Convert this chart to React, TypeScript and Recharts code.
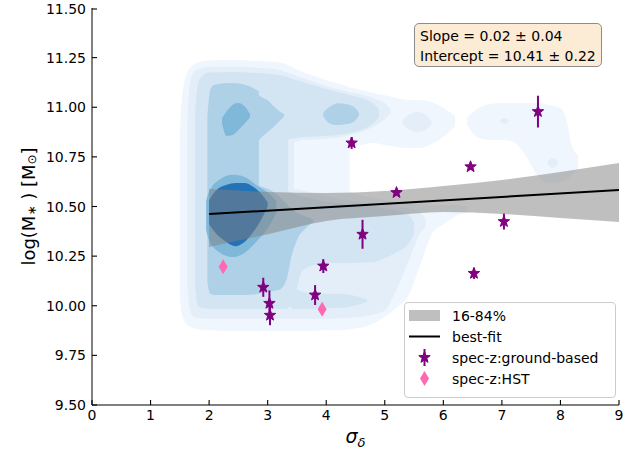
import { ComposedChart, Area, Line, Scatter, ErrorBar, XAxis, YAxis, Legend } from 'recharts'

type Island = [number, number, number][] // [x, low, high]

const xTicks = [0, 1, 2, 3, 4, 5, 6, 7, 8, 9]
const yTicks = [9.5, 9.75, 10, 10.25, 10.5, 10.75, 11, 11.25, 11.5]

// spec-z ground-based sample
const gbX = [2.925, 3.03, 3.04, 3.81, 3.95, 4.434, 4.62, 5.2, 6.465, 6.523, 7.035, 7.616]
const gbY = [10.093, 10.012, 9.952, 10.054, 10.2, 10.82, 10.36, 10.57, 10.7, 10.163, 10.424, 10.978]
const gbErr = [0.048, 0.065, 0.05, 0.05, 0.035, 0.03, 0.073, 0.015, 0.015, 0.028, 0.04, 0.08]

// spec-z HST sample
const hstX = [2.24, 3.93]
const hstY = [10.197, 9.982]

// 16-84% band of the fit
const bandX = [2, 3, 4, 5, 6, 7, 8, 9]
const bandLow = [10.296, 10.36, 10.427, 10.452, 10.472, 10.462, 10.442, 10.422]
const bandHigh = [10.588, 10.573, 10.568, 10.578, 10.603, 10.633, 10.674, 10.719]

// best fit
const fitX = [2, 9]
const fitY = [10.462, 10.583]

// KDE contour levels, lightest first
const levelColors = ['#f0f6fd', '#e3eef9', '#d3e4f3', '#afd1e7', '#80b8da', '#2473b6']

const level1: Island[] = [
  [[1.5, 10.05, 10.85], [1.52, 9.98, 10.99], [1.56, 9.935, 11.1], [1.62, 9.905, 11.17], [1.7, 9.89, 11.205], [1.8, 9.882, 11.225], [2.0, 9.876, 11.236], [2.4, 9.873, 11.238], [2.8, 9.873, 11.233], [3.2, 9.873, 11.226], [3.6, 9.873, 11.178], [4.0, 9.876, 11.137], [4.4, 9.882, 11.1]],
  [[4.2, 10.775, 11.12], [4.4, 10.795, 11.1], [4.6, 10.81, 11.087], [4.8, 10.82, 11.072], [5.0, 10.81, 11.06], [5.2, 10.8, 11.047], [5.4, 10.795, 11.037], [5.6, 10.795, 11.037], [5.8, 10.815, 11.026], [6.0, 10.85, 10.996], [6.2, 10.906, 10.956]],
  [[4.2, 9.876, 10.6], [4.4, 9.882, 10.575], [4.6, 9.89, 10.558], [4.8, 9.91, 10.543], [5.0, 9.945, 10.533], [5.2, 9.99, 10.523], [5.4, 10.05, 10.518], [5.6, 10.2, 10.513], [5.8, 10.36, 10.508], [6.0, 10.41, 10.508], [6.2, 10.45, 10.508], [6.4, 10.47, 10.5]],
  [[6.4, 10.916, 10.946], [6.6, 10.845, 10.996], [6.8, 10.835, 11.016], [7.0, 10.835, 11.021], [7.2, 10.825, 11.021], [7.4, 10.759, 11.021], [7.6, 10.659, 11.021], [7.8, 10.618, 11.011], [8.0, 10.623, 10.996], [8.1, 10.633, 10.94], [8.2, 10.66, 10.8], [8.3, 10.69, 10.76]],
]

const level2: Island[] = [
  [[1.63, 10.1, 10.95], [1.67, 9.98, 11.12], [1.72, 9.95, 11.17], [1.8, 9.94, 11.19], [2.0, 9.935, 11.203], [2.4, 9.935, 11.205], [2.8, 9.935, 11.2], [3.2, 9.935, 11.188], [3.45, 9.935, 11.16]],
  [[3.3, 10.8, 11.178], [3.6, 10.835, 11.147], [4.0, 10.84, 11.107], [4.4, 10.86, 11.077], [4.8, 10.9, 11.047], [5.0, 10.94, 11.02], [5.1, 10.97, 10.99]],
  [[3.3, 9.935, 10.6], [3.6, 9.935, 10.58], [4.0, 9.935, 10.55], [4.4, 9.94, 10.53], [4.8, 9.955, 10.515], [5.0, 9.975, 10.51], [5.2, 10.08, 10.5], [5.4, 10.22, 10.49], [5.6, 10.36, 10.47], [5.7, 10.4, 10.44]],
  [[5.3, 10.92, 10.93], [5.4, 10.89, 10.96], [5.55, 10.875, 10.976], [5.7, 10.885, 10.96], [5.8, 10.915, 10.93]],
  [[6.97, 10.926, 10.936], [7.04, 10.916, 10.946], [7.11, 10.926, 10.936]],
  [[7.78, 10.714, 10.724], [7.87, 10.694, 10.744], [7.96, 10.714, 10.724]],
]

const level3: Island[] = [
  [[1.76, 10.1, 10.95], [1.8, 10.01, 11.1], [1.86, 9.99, 11.15], [2.0, 9.985, 11.175], [2.4, 9.985, 11.178], [2.8, 9.985, 11.173], [3.2, 9.985, 11.162], [3.35, 9.985, 11.15]],
  [[3.25, 10.83, 11.158], [3.6, 10.85, 11.127], [4.0, 10.855, 11.092], [4.4, 10.87, 11.062], [4.8, 10.92, 11.02], [4.9, 10.95, 10.99]],
  [[3.25, 9.985, 10.59], [3.4, 10.0, 10.57], [3.6, 10.18, 10.55], [3.8, 10.205, 10.535], [4.0, 10.215, 10.525], [4.4, 10.215, 10.51], [4.8, 10.22, 10.5], [5.0, 10.24, 10.49], [5.2, 10.27, 10.48], [5.4, 10.31, 10.46], [5.5, 10.36, 10.42]],
  [[3.4, 9.985, 10.1], [3.6, 9.985, 10.07], [3.8, 9.985, 10.06], [4.0, 9.99, 10.06], [4.2, 9.99, 10.06], [4.4, 9.995, 10.055], [4.6, 10.01, 10.04], [4.7, 10.02, 10.03]],
]

const level4: Island[] = [
  [[1.97, 10.12, 10.95], [2.02, 10.06, 11.09], [2.1, 10.054, 11.115], [2.4, 10.054, 11.122], [2.6, 10.054, 11.115], [2.85, 10.06, 11.08]],
  [[2.75, 10.8, 11.085], [2.9, 10.85, 11.05], [3.0, 10.875, 11.035], [3.1, 10.9, 11.006], [3.2, 10.93, 10.98], [3.28, 10.955, 10.965]],
  [[2.75, 10.06, 10.62], [2.9, 10.064, 10.6], [3.0, 10.07, 10.59], [3.2, 10.08, 10.55], [3.33, 10.14, 10.51], [3.4, 10.24, 10.49], [3.5, 10.33, 10.47], [3.65, 10.39, 10.45], [3.78, 10.425, 10.435]],
  [[3.95, 10.955, 10.975], [4.05, 10.92, 11.0], [4.2, 10.91, 11.02], [4.35, 10.915, 11.015], [4.5, 10.935, 10.995], [4.56, 10.96, 10.97]],
]

const level5: Island[] = [
  [[2.22, 10.92, 10.945], [2.3, 10.855, 10.98], [2.4, 10.86, 11.011], [2.5, 10.885, 11.021], [2.6, 10.915, 11.006], [2.7, 10.95, 10.965]],
  [[1.95, 10.38, 10.53], [2.0, 10.33, 10.575], [2.2, 10.265, 10.64], [2.4, 10.245, 10.66], [2.6, 10.265, 10.65], [2.8, 10.32, 10.61], [3.0, 10.39, 10.57], [3.15, 10.47, 10.525]],
]

const level6: Island[] = [
  [[2.0, 10.41, 10.53], [2.1, 10.37, 10.575], [2.3, 10.32, 10.61], [2.45, 10.3, 10.618], [2.6, 10.32, 10.618], [2.75, 10.37, 10.6], [2.9, 10.44, 10.56], [3.0, 10.5, 10.52]],
]

const levels = [level1, level2, level3, level4, level5, level6]

// one shared table keyed by x; each contour island gets its own ranged key
const contours: { key: string; color: string }[] = []
const rows = new Map<number, Record<string, any>>()
const rowAt = (x: number) => {
  if (!rows.has(x)) rows.set(x, { x })
  return rows.get(x)!
}
levels.forEach((islands, li) =>
  islands.forEach((pts, ii) => {
    const key = `c${li}_${ii}`
    contours.push({ key, color: levelColors[li] })
    pts.forEach(([x, lo, hi]) => {
      rowAt(x)[key] = [lo, hi]
    })
  })
)
bandX.forEach((x, i) => {
  rowAt(x).band = [bandLow[i], bandHigh[i]]
})
fitX.forEach((x, i) => {
  rowAt(x).fit = fitY[i]
})
const table = [...rows.values()].sort((a, b) => a.x - b.x)

const gbData = gbX.map((x, i) => ({ x, y: gbY[i], err: gbErr[i] }))
const hstData = hstX.map((x, i) => ({ x, y: hstY[i] }))

const FONT = 'DejaVu Sans'
const PURPLE = '#800080'
const PINK = '#ff69b4'
const TICK = 5

function StarMark({ cx, cy }: { cx: number; cy: number }) {
  const pts: string[] = []
  for (let i = 0; i < 10; i++) {
    const r = i % 2 === 0 ? 6 : 2.5
    const a = -Math.PI / 2 + (i * Math.PI) / 5
    pts.push(`${cx + r * Math.cos(a)},${cy + r * Math.sin(a)}`)
  }
  return <polygon points={pts.join(' ')} fill={PURPLE} stroke={PURPLE} strokeWidth={1} />
}

function DiamondMark({ cx, cy }: { cx: number; cy: number }) {
  return <polygon points={`${cx},${cy - 7.5} ${cx + 4.5},${cy} ${cx},${cy + 7.5} ${cx - 4.5},${cy}`} fill={PINK} />
}

// inward ticks (matplotlib style), drawn from the tick position the axis hands over
function BottomTick({ x, y, payload }: any) {
  return (
    <g>
      <line x1={x} x2={x} y1={y - 4} y2={y - 4 - TICK} stroke="#000" strokeWidth={1.1} />
      <text x={x} y={y} dy="0.75em" textAnchor="middle" fontSize={14} fontFamily={FONT} fill="#000">{payload.value}</text>
    </g>
  )
}
function LeftTick({ x, y, payload }: any) {
  return (
    <g>
      <line x1={x + 6} x2={x + 6 + TICK} y1={y} y2={y} stroke="#000" strokeWidth={1.1} />
      <text x={x} y={y} dy="0.36em" textAnchor="end" fontSize={14} fontFamily={FONT} fill="#000">{Number(payload.value).toFixed(2)}</text>
    </g>
  )
}
function TopTick({ x, y }: any) {
  return <line x1={x} x2={x} y1={y} y2={y + TICK} stroke="#000" strokeWidth={1.1} />
}
function RightTick({ x, y }: any) {
  return <line x1={x} x2={x - TICK} y1={y} y2={y} stroke="#000" strokeWidth={1.1} />
}

function YLabel({ viewBox }: any) {
  const cx = viewBox.x + viewBox.width - 64
  const cy = viewBox.y + viewBox.height / 2
  return (
    <text x={cx} y={cy} transform={`rotate(-90 ${cx} ${cy})`} textAnchor="middle" dominantBaseline="central" fontSize={18} fontFamily={FONT} fill="#000">
      log(M<tspan fontSize={12} dy={4}>∗</tspan>
      <tspan dy={-4}> ) [M</tspan>
      <tspan fontSize={12} dy={4}>⊙</tspan>
      <tspan dy={-4}>]</tspan>
    </text>
  )
}

function XLabel({ viewBox }: any) {
  const cx = viewBox.x + viewBox.width / 2
  return (
    <text x={cx} y={viewBox.y + 38} textAnchor="middle" fontSize={19} fontFamily={FONT} fill="#000">
      <tspan fontStyle="italic">σ</tspan>
      <tspan fontStyle="italic" fontSize={13} dy={4}>δ</tspan>
    </text>
  )
}

function LegendBox() {
  const row = { display: 'flex', alignItems: 'center', height: 21 }
  const icon = { width: 31, height: 21, marginRight: 12, flex: 'none' as const }
  return (
    <div style={{ width: 212, height: 96, boxSizing: 'border-box', border: '1px solid #cccccc', borderRadius: 4, background: 'rgba(255,255,255,0.8)', padding: '2px 0 0 4px', fontFamily: FONT, fontSize: 14, color: '#000' }}>
      <div style={row}>
        <svg style={icon}><rect x={0} y={5} width={31} height={11} fill="gray" fillOpacity={0.5} /></svg>16-84%
      </div>
      <div style={row}>
        <svg style={icon}><line x1={0} x2={31} y1={10.5} y2={10.5} stroke="#000" strokeWidth={2} /></svg>best-fit
      </div>
      <div style={row}>
        <svg style={icon}>
          <line x1={15.5} x2={15.5} y1={2} y2={19} stroke={PURPLE} strokeWidth={2} />
          <StarMark cx={15.5} cy={10.5} />
        </svg>
        spec-z:ground-based
      </div>
      <div style={row}>
        <svg style={icon}><DiamondMark cx={15.5} cy={10.5} /></svg>spec-z:HST
      </div>
    </div>
  )
}

export default function App() {
  return (
    <div style={{ position: 'absolute', left: 0, top: 0, width: 643, height: 453, background: '#fff' }}>
      <ComposedChart width={643} height={453} data={table} margin={{ top: 8, right: 24, bottom: 18, left: 32 }}>
        <XAxis type="number" dataKey="x" domain={[0, 9]} ticks={xTicks} allowDataOverflow height={30}
          tick={<BottomTick />} tickSize={0} tickMargin={4} tickLine={false} axisLine={{ stroke: '#000' }}
          label={{ content: (p: any) => <XLabel viewBox={p.viewBox} /> }} />
        <XAxis xAxisId="top" orientation="top" type="number" dataKey="x" domain={[0, 9]} ticks={xTicks} allowDataOverflow height={0}
          tick={<TopTick />} tickSize={0} tickMargin={0} tickLine={false} axisLine={{ stroke: '#000' }} />
        <YAxis type="number" domain={[9.5, 11.5]} ticks={yTicks} allowDataOverflow width={60}
          tick={<LeftTick />} tickSize={0} tickMargin={6} tickLine={false} axisLine={{ stroke: '#000' }}
          label={{ content: (p: any) => <YLabel viewBox={p.viewBox} /> }} />
        <YAxis yAxisId="right" orientation="right" type="number" domain={[9.5, 11.5]} ticks={yTicks} allowDataOverflow width={0}
          tick={<RightTick />} tickSize={0} tickMargin={0} tickLine={false} axisLine={{ stroke: '#000' }} />

        {contours.map((c) => (
          <Area key={c.key} dataKey={c.key} type="monotone" fill={c.color} fillOpacity={1} stroke="none"
            connectNulls dot={false} activeDot={false} isAnimationActive={false} />
        ))}
        <Area dataKey="band" type="monotone" fill="gray" fillOpacity={0.5} stroke="none" connectNulls dot={false} activeDot={false} isAnimationActive={false} />
        <Line dataKey="fit" type="linear" stroke="#000" strokeWidth={2} dot={false} activeDot={false} connectNulls isAnimationActive={false} />

        <Scatter data={gbData} dataKey="y" shape={(p: any) => <StarMark cx={p.cx} cy={p.cy} />} isAnimationActive={false}>
          <ErrorBar dataKey="err" direction="y" width={0} stroke={PURPLE} strokeWidth={2} isAnimationActive={false} />
        </Scatter>
        <Scatter data={hstData} dataKey="y" shape={(p: any) => <DiamondMark cx={p.cx} cy={p.cy} />} isAnimationActive={false} />

        <Legend layout="vertical" align="center" verticalAlign="middle" content={() => <LegendBox />}
          wrapperStyle={{ left: 404, top: 302, width: 212, height: 96 }} />
      </ComposedChart>

      <div style={{ position: 'absolute', left: 414, top: 23, width: 188, height: 44, boxSizing: 'border-box', background: '#fcebd5', border: '1px solid #8c8c8c', borderRadius: 5, padding: '2px 5px', fontFamily: FONT, fontSize: 14, lineHeight: '20px', color: '#000', whiteSpace: 'nowrap' }}>
        <div>Slope = 0.02 ± 0.04</div>
        <div>Intercept = 10.41 ± 0.22</div>
      </div>
    </div>
  )
}
